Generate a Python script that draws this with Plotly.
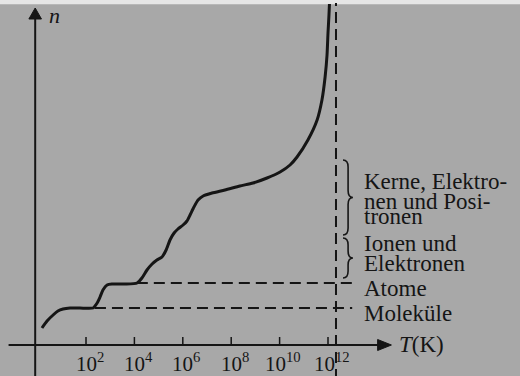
import plotly.graph_objects as go

# ---- data (log10 T in K, n in arbitrary units) ----
log_T = [0.18, 0.39, 0.64, 0.84, 1.05, 1.34, 1.75, 2.29, 2.46, 2.58, 2.70, 2.87, 3.07,
         3.61, 4.11, 4.31, 4.52, 4.73, 4.93, 5.14, 5.31, 5.47, 5.64, 5.80, 6.01, 6.17,
         6.30, 6.46, 6.63, 6.84, 7.21, 7.74, 8.36, 8.90, 9.48, 10.02, 10.43, 10.72,
         11.17, 11.55, 11.75, 11.88, 11.96, 12.00, 12.04, 12.06]
n_vals = [1.7, 2.4, 3.0, 3.4, 3.6, 3.7, 3.7, 3.7, 4.2, 4.8, 5.5, 6.0, 6.1,
          6.1, 6.2, 6.7, 7.5, 8.1, 8.5, 8.8, 9.5, 10.5, 11.2, 11.6, 12.0, 12.4,
          13.0, 13.8, 14.5, 14.9, 15.2, 15.5, 15.9, 16.2, 16.7, 17.3, 18.0, 18.8,
          20.5, 22.5, 24.5, 26.8, 29.0, 31.2, 33.0, 34.1]

tick_exps = [2, 4, 6, 8, 10, 12]
tick_labels = ["10<sup>2</sup>", "10<sup>4</sup>", "10<sup>6</sup>", "10<sup>8</sup>",
               "10<sup>10</sup>", "10<sup>12</sup>"]

level_names = ["Moleküle", "Atome"]
level_n = [3.7, 6.2]
level_start = [2.37, 4.1]

T_limit = 12.33  # log10 of limit temperature (dashed vertical)

brace_ranges = [(11.0, 18.5), (6.7, 10.7)]
label_lines = [("Kerne, Elektro-", 16.4), ("nen und Posi-", 14.4), ("tronen", 12.85),
               ("Ionen und", 10.2), ("Elektronen", 8.2), ("Atome", 5.7), ("Moleküle", 3.2)]

INK = "#151515"
FONT = "Liberation Serif, Times New Roman, serif"

fig = go.Figure()
fig.add_trace(go.Scatter(x=log_T, y=n_vals, mode="lines",
                         line=dict(color=INK, width=3, shape="spline", smoothing=0.6),
                         hoverinfo="skip", showlegend=False))

shapes = []
# top light strip of the scan
shapes.append(dict(type="rect", xref="paper", yref="paper", x0=0, x1=1, y0=0.989, y1=1,
                   fillcolor="#e6e6e6", line=dict(width=0), layer="below"))
# axes
shapes.append(dict(type="line", x0=-1.2, x1=14.2, y0=0, y1=0, line=dict(color=INK, width=2)))
shapes.append(dict(type="path", path="M 14.62,0 L 14.05,0.55 L 14.05,-0.55 Z",
                   fillcolor=INK, line=dict(color=INK, width=1)))
shapes.append(dict(type="line", x0=-0.1, x1=-0.1, y0=-3.5, y1=32.9, line=dict(color=INK, width=2)))
shapes.append(dict(type="path", path="M -0.1,33.7 L -0.36,32.6 L 0.16,32.6 Z",
                   fillcolor=INK, line=dict(color=INK, width=1)))
# ticks
for e in tick_exps:
    shapes.append(dict(type="line", x0=e, x1=e, y0=0, y1=0.8, line=dict(color=INK, width=1.5)))
# limit dashed vertical
shapes.append(dict(type="line", x0=T_limit, x1=T_limit, y0=-3.5, y1=34.2,
                   line=dict(color=INK, width=2, dash="11px,6px")))
# level dashed horizontals
for nv, xs in zip(level_n, level_start):
    shapes.append(dict(type="line", x0=xs, x1=13.0, y0=nv, y1=nv,
                       line=dict(color=INK, width=2, dash="11px,6px")))
# braces
xt, xsp, xp, r = 12.62, 12.83, 13.03, 0.7
for nb, nt in brace_ranges:
    nm = (nb + nt) / 2
    p = (f"M {xt},{nt} Q {xsp},{nt} {xsp},{nt - r} L {xsp},{nm + r} "
         f"Q {xsp},{nm} {xp},{nm} Q {xsp},{nm} {xsp},{nm - r} "
         f"L {xsp},{nb + r} Q {xsp},{nb} {xt},{nb}")
    shapes.append(dict(type="path", path=p, line=dict(color=INK, width=1.6)))

annotations = []
for e, lab in zip(tick_exps, tick_labels):
    annotations.append(dict(x=e + 0.15, y=-1.75, text=lab, showarrow=False, xanchor="center",
                            yanchor="middle", font=dict(family=FONT, size=21, color=INK)))
for txt, yv in label_lines:
    annotations.append(dict(x=13.4, y=yv, text=txt, showarrow=False, xanchor="left",
                            yanchor="middle", font=dict(family=FONT, size=23, color=INK)))
annotations.append(dict(x=14.85, y=0.05, text="<i>T</i>(K)", showarrow=False, xanchor="left",
                        yanchor="middle", font=dict(family=FONT, size=23, color=INK)))
annotations.append(dict(x=0.4, y=33.0, text="<i>n</i>", showarrow=False, xanchor="left",
                        yanchor="middle", font=dict(family=FONT, size=22, color=INK)))

fig.update_layout(
    width=520, height=376,
    margin=dict(l=0, r=0, t=0, b=0),
    paper_bgcolor="#a8a8a8", plot_bgcolor="#a8a8a8",
    xaxis=dict(range=[-1.554, 19.934], visible=False, fixedrange=True),
    yaxis=dict(range=[-3.1, 34.5], visible=False, fixedrange=True),
    shapes=shapes, annotations=annotations,
)

fig.write_html("out.html", config={"displayModeBar": False},
               post_script="document.body.style.margin='0';document.body.style.padding='0';")
